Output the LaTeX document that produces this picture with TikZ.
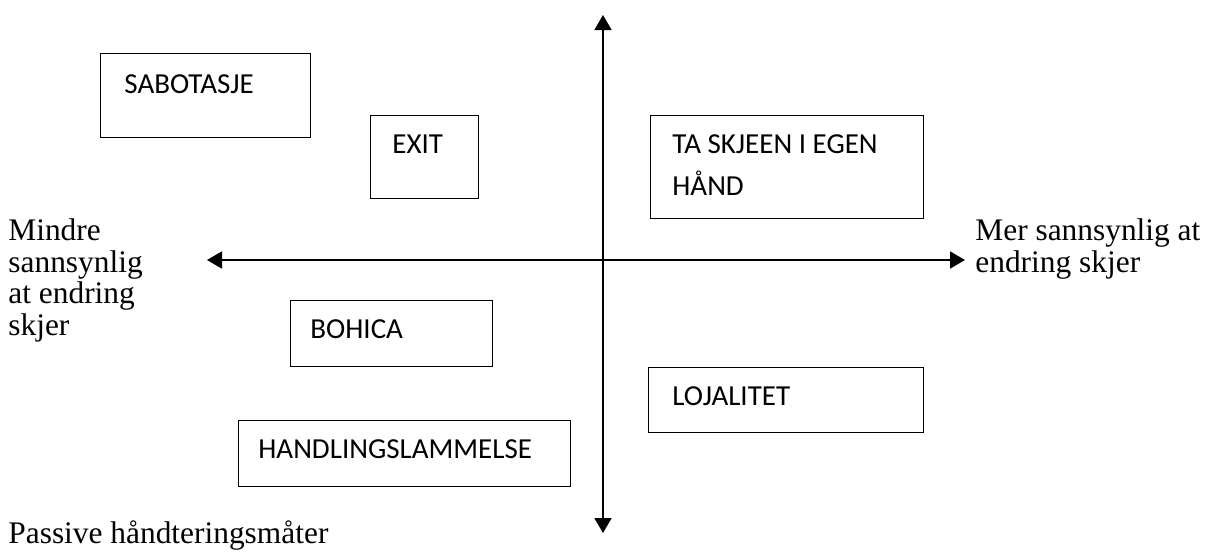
\documentclass[tikz,border=0pt]{standalone}
\usepackage{fontspec}
\setmainfont{Liberation Serif}
\newfontfamily\boxfont{Carlito}
\usetikzlibrary{arrows.meta,calc}
\begin{document}
\begin{tikzpicture}[x=0.5pt,y=-0.5pt,
  tip/.tip={Triangle[length=7.5pt,width=8.5pt]},
  axis/.style={line width=0.85pt,tip-tip},
  box/.style={draw,line width=0.6pt,anchor=north west,inner sep=0pt},
  boxtext/.style={font=\boxfont\fontsize{14.5pt}{21pt}\selectfont,anchor=base west,inner sep=0pt},
  sidetext/.style={font=\fontsize{15.7pt}{15.8pt}\selectfont,anchor=base west,inner sep=0pt}]
\useasboundingbox (0,0) rectangle (1211,554);

% axes
\coordinate (west) at (207,260);
\coordinate (east) at (965,260);
\coordinate (north) at (603,15);
\coordinate (south) at (603,533);
\draw[axis] (west) -- (east);
\draw[axis] (north) -- (south);

% boxes
\node[box,minimum width=105pt,minimum height=42pt] (sab) at (100,53) {};
\node[box,minimum width=54pt,minimum height=41.5pt] (exit) at (370,115) {};
\node[box,minimum width=136.5pt,minimum height=51.5pt] (ta) at (650,115) {};
\node[box,minimum width=101pt,minimum height=33pt] (bohica) at (290,300) {};
\node[box,minimum width=137.5pt,minimum height=32.5pt] (loj) at (648,367) {};
\node[box,minimum width=166pt,minimum height=33pt] (hand) at (238,420) {};

% box labels
\node[boxtext] (sabT) at ($(sab.north west)+(24,40)$) {SABOTASJE};
\node[boxtext] (exitT) at ($(exit.north west)+(22,38)$) {EXIT};
\node[boxtext] (taT1) at ($(ta.north west)+(22,38)$) {TA SKJEEN I EGEN};
\node[boxtext] (taT2) at ($(ta.north west)+(22,80)$) {HÅND};
\node[boxtext] (bohicaT) at ($(bohica.north west)+(20,38)$) {BOHICA};
\node[boxtext] (lojT) at ($(loj.north west)+(24,38)$) {LOJALITET};
\node[boxtext] (handT) at ($(hand.north west)+(20,38)$) {HANDLINGSLAMMELSE};

% axis labels
\node[sidetext] (l1) at (8,240) {Mindre};
\node[sidetext] (l2) at (8,272) {sannsynlig};
\node[sidetext] (l3) at (8,303) {at endring};
\node[sidetext] (l4) at (8,335) {skjer};
\node[sidetext] (r1) at (975,240) {Mer sannsynlig at};
\node[sidetext] (r2) at (975,272) {endring skjer};
\node[sidetext] (bot) at (8,543) {Passive håndteringsmåter};
\end{tikzpicture}
\end{document}
